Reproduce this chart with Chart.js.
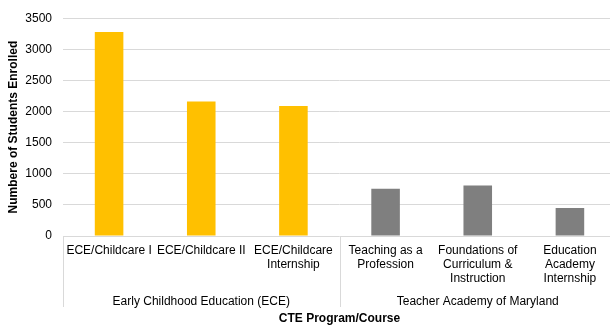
<!DOCTYPE html>
<html>
<head>
<meta charset="utf-8">
<script src="https://cdn.jsdelivr.net/npm/chart.js@4"></script>
<style>
  html, body { margin: 0; padding: 0; background: #fff; overflow: hidden; }
  #wrap { width: 616px; height: 326px; }
</style>
</head>
<body>
<div id="wrap"><canvas id="enrolled" width="616" height="326"></canvas></div>
<script>
// courses and enrolment counts
const courses = [
    ['ECE/Childcare I'],
    ['ECE/Childcare II'],
    ['ECE/Childcare', 'Internship'],
    ['Teaching as a', 'Profession'],
    ['Foundations of', 'Curriculum &', 'Instruction'],
    ['Education', 'Academy', 'Internship']
];
const enrolled = [3280, 2160, 2090, 760, 810, 450];
const groups = ['Early Childhood Education (ECE)', 'Teacher Academy of Maryland'];
const groupSizes = [3, 3];
const groupColors = ['#FFC000', '#7F7F7F'];
const yTicks = [0, 500, 1000, 1500, 2000, 2500, 3000, 3500];

const barColors = [];
groupSizes.forEach((n, g) => { for (let i = 0; i < n; i++) barColors.push(groupColors[g]); });

Chart.defaults.font.family = '"Liberation Sans", Arial, sans-serif';
Chart.defaults.font.size = 12;
Chart.defaults.color = '#000';

// vertical separators between the course groups
const groupLines = {
    id: 'groupLines',
    afterDraw(chart) {
        const ctx = chart.ctx;
        const x = chart.scales.x;
        const g = chart.scales.x2;
        const half = (x.getPixelForValue(1) - x.getPixelForValue(0)) / 2;
        let start = 0;
        const bounds = [];
        groupSizes.forEach(n => { bounds.push(start); start += n; });
        bounds.push(start);
        ctx.save();
        ctx.strokeStyle = '#D9D9D9';
        ctx.lineWidth = 1;
        bounds.forEach(i => {
            const px = Math.round(x.getPixelForValue(i) - half) + 0.5;
            ctx.beginPath();
            ctx.moveTo(px, chart.chartArea.bottom);
            ctx.lineTo(px, g.bottom - 19);
            ctx.stroke();
        });
        ctx.restore();
    }
};

const ctx = document.getElementById('enrolled').getContext('2d');
const chart = new Chart(ctx, {
    type: 'bar',
    data: {
        labels: courses,
        datasets: [{
            data: enrolled,
            backgroundColor: barColors,
            barPercentage: 0.31,
            categoryPercentage: 1
        }]
    },
    options: {
        responsive: false,
        animation: false,
        layout: { padding: { top: 8, left: 6, right: 0, bottom: 0 } },
        plugins: {
            legend: { display: false },
            tooltip: { enabled: false }
        },
        scales: {
            y: {
                min: 0,
                max: 3500,
                afterBuildTicks: axis => { axis.ticks = yTicks.map(v => ({ value: v })); },
                afterFit: axis => { axis.width = 57; },
                grid: { color: '#D9D9D9', drawTicks: false },
                border: { display: false },
                ticks: { padding: 11, color: '#000', callback: v => String(v) },
                title: {
                    display: true,
                    text: 'Numbere of Students Enrolled',
                    font: { weight: 'bold', size: 12 },
                    padding: { top: 0, bottom: 4 }
                }
            },
            x: {
                weight: 0,
                grid: { display: false, drawTicks: false },
                border: { display: false },
                ticks: { maxRotation: 0, autoSkip: false, padding: 7, color: '#000' }
            },
            x2: {
                type: 'category',
                position: 'bottom',
                weight: 1,
                labels: groups,
                offset: true,
                grid: { display: false, drawTicks: false },
                border: { display: false },
                ticks: { padding: 1, color: '#000' },
                title: {
                    display: true,
                    text: 'CTE Program/Course',
                    font: { weight: 'bold', size: 12 },
                    padding: { top: 2, bottom: 0 }
                }
            }
        }
    },
    plugins: [groupLines]
});
</script>
</body>
</html>
